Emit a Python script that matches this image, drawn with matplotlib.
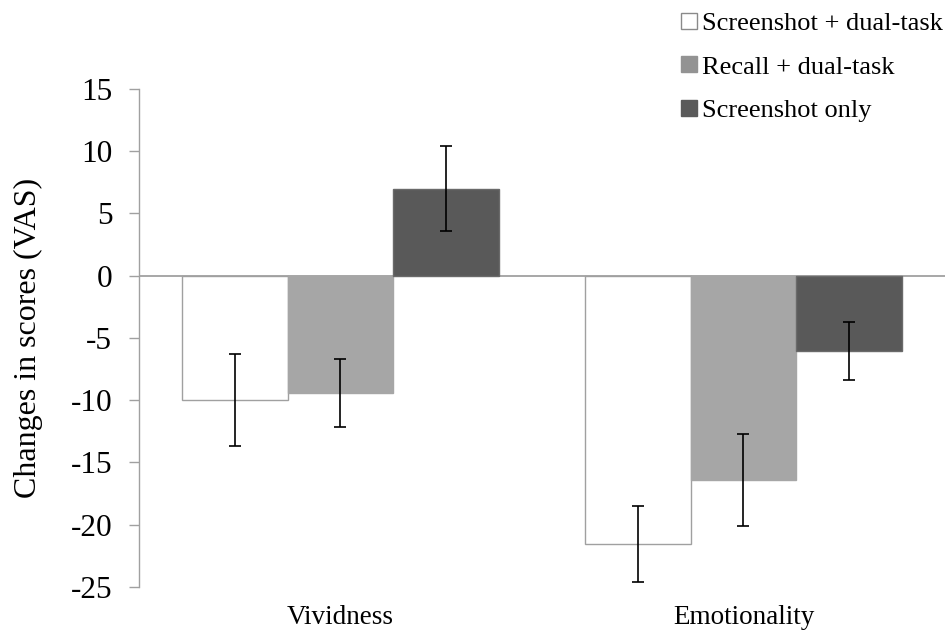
import matplotlib.pyplot as plt
from matplotlib.lines import Line2D
import numpy as np

plt.rcParams['font.family'] = ['Liberation Serif', 'DejaVu Serif']

categories = ['Vividness', 'Emotionality']
series_names = ['Screenshot + dual-task', 'Recall + dual-task', 'Screenshot only']
screenshot_dual = [-10.0, -21.55]
recall_dual = [-9.4, -16.4]
screenshot_only = [7.0, -6.05]
err_screenshot_dual = [3.7, 3.07]
err_recall_dual = [2.73, 3.67]
err_screenshot_only = [3.4, 2.33]
yticks = [-25, -20, -15, -10, -5, 0, 5, 10, 15]


def create_plot():
    fig = plt.figure(figsize=(9.48, 6.33), dpi=100, facecolor='white')
    ax = fig.add_axes([0.1466, 0.0727, 0.8502, 0.7867])

    x = np.arange(len(categories))
    w = 0.262
    values = [screenshot_dual, recall_dual, screenshot_only]
    errors = [err_screenshot_dual, err_recall_dual, err_screenshot_only]
    faces = ['white', '#a6a6a6', '#595959']
    edges = ['#a0a0a0', '#a6a6a6', '#6a6a6a']
    for i in range(3):
        ax.bar(x + (i - 1) * w, values[i], width=w, color=faces[i], edgecolor=edges[i],
               linewidth=1, zorder=2)
        ax.errorbar(x + (i - 1) * w, values[i], yerr=errors[i], fmt='none', ecolor='black',
                    elinewidth=1.2, capsize=4.3, capthick=1.2, zorder=3)

    ax.axhline(0, color='#a0a0a0', linewidth=1.3, zorder=1)
    ax.set_xlim(-0.5, 1.5)
    ax.set_ylim(-25, 15)
    ax.set_yticks(yticks)
    ax.set_yticklabels([str(t) for t in yticks], fontsize=22.5)
    ax.set_xticks(x)
    ax.set_xticklabels(categories, fontsize=19.5)
    ax.tick_params(axis='x', length=0, pad=13)
    ax.tick_params(axis='y', direction='out', length=7.2, width=1, color='#a0a0a0', pad=12)
    for s in ['top', 'right', 'bottom']:
        ax.spines[s].set_visible(False)
    ax.spines['left'].set_color('#a0a0a0')
    ax.spines['left'].set_linewidth(1)

    ax.set_ylabel('Changes in scores (VAS)', fontsize=23)
    ax.yaxis.set_label_coords(-0.119, 0.5)

    handles = [Line2D([], [], linestyle='none', marker='s', markersize=11.5,
                      markerfacecolor=c, markeredgecolor=e, markeredgewidth=1)
               for c, e in zip(['white', '#939393', '#5a5a5a'], ['#8a8a8a', '#939393', '#5a5a5a'])]
    fig.legend(handles, series_names, loc='upper left', bbox_to_anchor=(678 / 948, 1 - 12 / 633),
               frameon=False, fontsize=19, handlelength=0.8, handletextpad=0.12,
               labelspacing=0.75, borderpad=0, borderaxespad=0)

    fig.savefig('out.png', dpi=100, facecolor='white')


create_plot()
